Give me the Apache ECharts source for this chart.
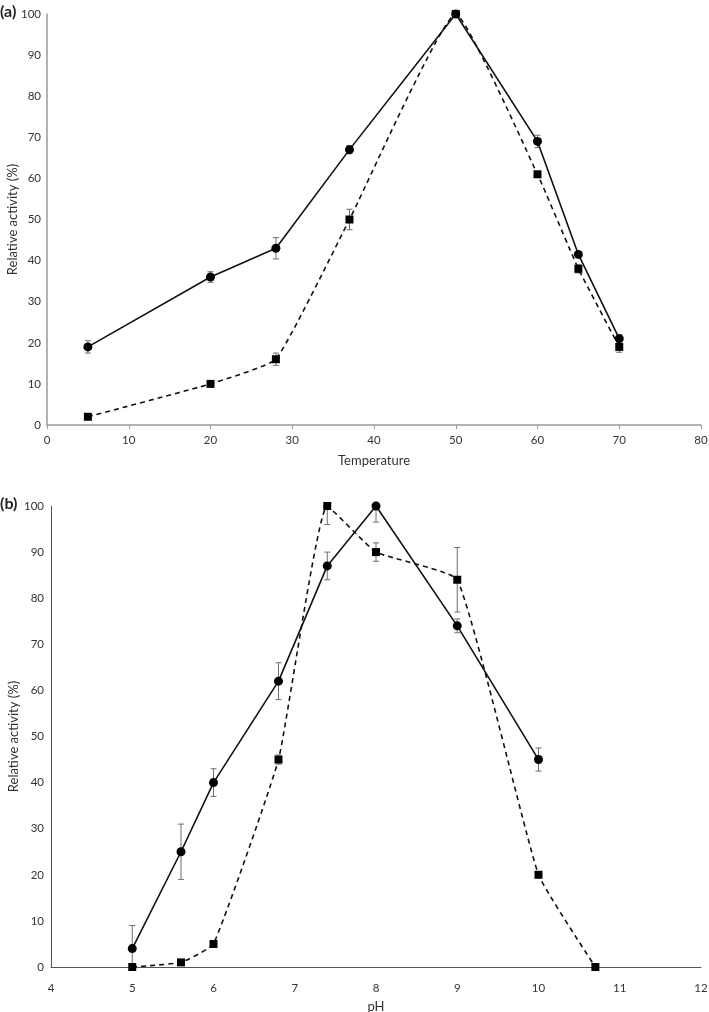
<!DOCTYPE html>
<html>
<head>
<meta charset="utf-8">
<script src="https://cdn.jsdelivr.net/npm/echarts@6/dist/echarts.min.js"></script>
<style>
html,body{margin:0;padding:0;background:#fff;}
#c{width:709px;height:1012px;}
</style>
</head>
<body>
<div id="c"></div>
<script>
// Panel (a): temperature
const tempX = [5, 20, 28, 37, 50, 60, 65, 70];
const tempCircle = [19, 36, 43, 67, 100, 69, 41.5, 21];
const tempCircleErr = [1.5, 1.3, 2.6, 1, 0, 1.5, 0, 1];
const tempSquare = [2, 10, 16, 50, 100, 61, 38, 19];
const tempSquareErr = [0, 0, 1.5, 2.5, 0, 0, 1, 1.3];

// Panel (b): pH
const phCircleX = [5, 5.6, 6, 6.8, 7.4, 8, 9, 10];
const phCircle = [4, 25, 40, 62, 87, 100, 74, 45];
const phCircleErr = [5, 6, 3, 4, 3, 3.5, 1.5, 2.5];
const phSquareX = [5, 5.6, 6, 6.8, 7.4, 8, 9, 10, 10.7];
const phSquare = [0, 1, 5, 45, 100, 90, 84, 20, 0];
const phSquareErr = [0, 0, 0, 1, 4, 2, 7, 0, 0];

const FONT = 'Lato, "Open Sans", sans-serif';
const TXT = '#333';

function pairs(xs, ys) { return xs.map((x, i) => [x, ys[i]]); }
function errData(xs, ys, es) { return xs.map((x, i) => [x, ys[i], es[i]]).filter(d => d[2] > 0); }

function errSeries(idx, data) {
  return {
    type: 'custom', xAxisIndex: idx, yAxisIndex: idx, z: 1, clip: true,
    data: data,
    renderItem: function (params, api) {
      const x = api.value(0), y = api.value(1), e = api.value(2);
      const top = api.coord([x, y + e]);
      const bot = api.coord([x, y - e]);
      const cw = 3;
      const st = { stroke: '#6e6e6e', lineWidth: 1 };
      return {
        type: 'group',
        children: [
          { type: 'line', shape: { x1: top[0], y1: top[1], x2: bot[0], y2: bot[1] }, style: st },
          { type: 'line', shape: { x1: top[0] - cw, y1: top[1], x2: top[0] + cw, y2: top[1] }, style: st },
          { type: 'line', shape: { x1: bot[0] - cw, y1: bot[1], x2: bot[0] + cw, y2: bot[1] }, style: st }
        ]
      };
    }
  };
}

const chart = echarts.init(document.getElementById('c'), null, { renderer: 'canvas' });

const axisLabel = { color: TXT, fontFamily: FONT, fontSize: 11.5 };
const nameStyle = { color: TXT, fontFamily: FONT, fontSize: 13 };

chart.setOption({
  animation: false,
  backgroundColor: '#fff',
  graphic: [
    { type: 'text', left: 0, top: 4, style: { text: '(a)', font: 'bold 16px ' + FONT, fill: '#222' } },
    { type: 'text', left: 0, top: 496, style: { text: '(b)', font: 'bold 16px ' + FONT, fill: '#222' } }
  ],
  grid: [
    { left: 47, top: 14, width: 654, height: 411, outerBoundsMode: 'none', containLabel: false },
    { left: 51, top: 506, width: 650, height: 461, outerBoundsMode: 'none', containLabel: false }
  ],
  xAxis: [
    {
      gridIndex: 0, type: 'value', min: 0, max: 80, interval: 10,
      name: 'Temperature', nameLocation: 'middle', nameGap: 29, nameMoveOverlap: false, nameTextStyle: nameStyle,
      axisLine: { lineStyle: { color: '#9a9a9a', width: 1.5 } },
      axisTick: { show: true, length: 4, lineStyle: { color: '#9a9a9a' } },
      axisLabel: Object.assign({ margin: 9 }, axisLabel),
      splitLine: { show: false }
    },
    {
      gridIndex: 1, type: 'value', min: 4, max: 12, interval: 1,
      name: 'pH', nameLocation: 'middle', nameGap: 33, nameMoveOverlap: false, nameTextStyle: nameStyle,
      axisLine: { lineStyle: { color: '#555', width: 1 } },
      axisTick: { show: false },
      axisLabel: Object.assign({ margin: 15 }, axisLabel),
      splitLine: { show: false }
    }
  ],
  yAxis: [
    {
      gridIndex: 0, type: 'value', min: 0, max: 100, interval: 10,
      name: 'Relative activity (%)', nameLocation: 'middle', nameGap: 28, nameMoveOverlap: false, nameTextStyle: nameStyle,
      axisLine: { show: true, lineStyle: { color: '#9a9a9a', width: 1.5 } },
      axisTick: { show: false },
      axisLabel: Object.assign({ margin: 6 }, axisLabel),
      splitLine: { show: false }
    },
    {
      gridIndex: 1, type: 'value', min: 0, max: 100, interval: 10,
      name: 'Relative activity (%)', nameLocation: 'middle', nameGap: 31, nameMoveOverlap: false, nameTextStyle: nameStyle,
      axisLine: { show: true, lineStyle: { color: '#555', width: 1 } },
      axisTick: { show: false },
      axisLabel: Object.assign({ margin: 7 }, axisLabel),
      splitLine: { show: false }
    }
  ],
  series: [
    errSeries(0, errData(tempX, tempCircle, tempCircleErr)),
    errSeries(0, errData(tempX, tempSquare, tempSquareErr)),
    {
      type: 'line', xAxisIndex: 0, yAxisIndex: 0, data: pairs(tempX, tempSquare),
      symbol: 'rect', symbolSize: 8, z: 3,
      smooth: 0.12,
      lineStyle: { color: '#111', width: 1.6, type: [5, 4] },
      itemStyle: { color: '#000' }
    },
    {
      type: 'line', xAxisIndex: 0, yAxisIndex: 0, data: pairs(tempX, tempCircle),
      symbol: 'circle', symbolSize: 9, z: 4,
      lineStyle: { color: '#111', width: 1.6 },
      itemStyle: { color: '#000' }
    },
    errSeries(1, errData(phCircleX, phCircle, phCircleErr)),
    errSeries(1, errData(phSquareX, phSquare, phSquareErr)),
    {
      type: 'line', xAxisIndex: 1, yAxisIndex: 1, data: pairs(phSquareX, phSquare),
      symbol: 'rect', symbolSize: 8, z: 3,
      smooth: 0.12,
      lineStyle: { color: '#111', width: 1.6, type: [5, 4] },
      itemStyle: { color: '#000' }
    },
    {
      type: 'line', xAxisIndex: 1, yAxisIndex: 1, data: pairs(phCircleX, phCircle),
      symbol: 'circle', symbolSize: 9, z: 4,
      lineStyle: { color: '#111', width: 1.6 },
      itemStyle: { color: '#000' }
    }
  ]
});
</script>
</body>
</html>
